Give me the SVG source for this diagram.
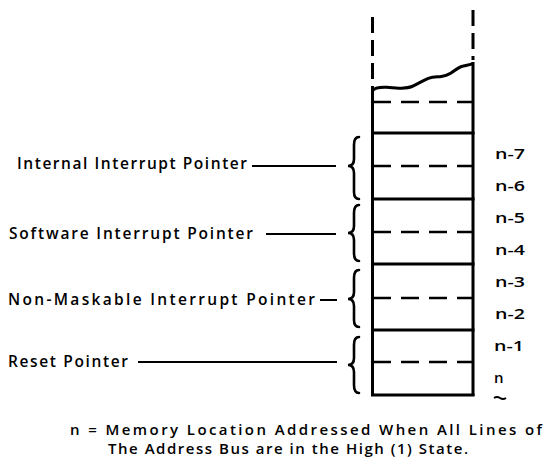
<svg xmlns="http://www.w3.org/2000/svg" width="547" height="465" viewBox="0 0 547 465">
<style>
.t{font-family:"Open Sans","Liberation Sans",Arial,sans-serif;font-weight:600;font-size:15.5px;fill:#000}
.a{font-family:"Open Sans","Liberation Sans",Arial,sans-serif;font-weight:600;font-size:15px;fill:#000}
.s{stroke:#000;stroke-width:3;fill:none}
.d{stroke:#000;stroke-width:2.6;fill:none;stroke-dasharray:18 10}
.v{stroke:#000;stroke-width:3;fill:none;stroke-dasharray:16 7}
.l{stroke:#000;stroke-width:2;fill:none}
.b{stroke:#000;stroke-width:2.6;fill:none;stroke-linecap:round}
</style>
<rect width="547" height="465" fill="#fff"/>
<g id="memory-stack">
<line class="v" x1="372.5" y1="17" x2="372.5" y2="88"/>
<line class="v" x1="473" y1="10" x2="473" y2="60"/>
<path class="s" d="M372.3 91 C374 88 378 87 386.7 87.3 C392 87.6 396 88.6 400 88.3 C405 88 408 88 412 86.5 C417 84.5 422 81 428.3 78.3 C433 76.7 437 77 440 76.7 C445 76 448 75 451 73 C455 70 459 67 463.3 66 C467 65 470 65 473.3 63.3"/>
<line class="s" x1="372.5" y1="88" x2="372.5" y2="396"/>
<line class="s" x1="473" y1="62" x2="473" y2="396"/>
<line class="d" x1="373" y1="102" x2="472" y2="102"/>
<line class="s" x1="371" y1="133" x2="474.5" y2="133"/>
<line class="d" x1="373" y1="166" x2="472" y2="166"/>
<line class="s" x1="371" y1="199" x2="474.5" y2="199"/>
<line class="d" x1="373" y1="232" x2="472" y2="232"/>
<line class="s" x1="371" y1="264" x2="474.5" y2="264"/>
<line class="d" x1="373" y1="298" x2="472" y2="298"/>
<line class="s" x1="371" y1="330" x2="474.5" y2="330"/>
<line class="d" x1="373" y1="362" x2="472" y2="362"/>
<line class="s" x1="371" y1="395" x2="474.5" y2="395"/>
</g>
<g id="address-labels">
<text class="a" x="495" y="159" textLength="30" lengthAdjust="spacingAndGlyphs">n-7</text>
<text class="a" x="495" y="191" textLength="30" lengthAdjust="spacingAndGlyphs">n-6</text>
<text class="a" x="495" y="223" textLength="30" lengthAdjust="spacingAndGlyphs">n-5</text>
<text class="a" x="495" y="255" textLength="30" lengthAdjust="spacingAndGlyphs">n-4</text>
<text class="a" x="495" y="287" textLength="30" lengthAdjust="spacingAndGlyphs">n-3</text>
<text class="a" x="495" y="319" textLength="30" lengthAdjust="spacingAndGlyphs">n-2</text>
<text class="a" x="494" y="351" textLength="30" lengthAdjust="spacingAndGlyphs">n-1</text>
<text class="a" x="494" y="383">n</text>
<path class="l" d="M494 398 Q497 396 500 398 Q503 400 506 398" stroke-width="1.5"/>
</g>
<g id="internal-interrupt-pointer">
<text class="t" x="17" y="169" textLength="230" lengthAdjust="spacing">Internal Interrupt Pointer</text>
<path class="b" d="M359 137 Q354 137 354 145 L354 159 Q354 166 348 166 Q354 166 354 173 L354 192 Q354 199 359 199"/>
</g>
<g id="software-interrupt-pointer">
<text class="t" x="9" y="239" textLength="244" lengthAdjust="spacing">Software Interrupt Pointer</text>
<path class="b" d="M359 205 Q354 205 354 213 L354 226 Q354 233 348 233 Q354 233 354 240 L354 253 Q354 261 359 261"/>
</g>
<g id="non-maskable-interrupt-pointer">
<text class="t" x="8" y="305" textLength="307" lengthAdjust="spacing">Non-Maskable Interrupt Pointer</text>
<path class="b" d="M359 270 Q354 270 354 278 L354 292 Q354 299 348 299 Q354 299 354 306 L354 320 Q354 327 359 327"/>
</g>
<g id="reset-pointer">
<text class="t" x="8" y="367" textLength="120" lengthAdjust="spacing">Reset Pointer</text>
<path class="b" d="M359 337 Q354 337 354 345 L354 358 Q354 365 348 365 Q354 365 354 372 L354 385 Q354 393 359 393"/>
</g>
<g id="connectors">
<line class="l" x1="252" y1="166" x2="336" y2="166"/>
<line class="l" x1="266" y1="234" x2="336" y2="234"/>
<line class="l" x1="320" y1="300" x2="337" y2="300"/>
<line class="l" x1="138" y1="362" x2="337" y2="362"/>
</g>
<g id="note">
<text class="a" x="70" y="435" textLength="472" lengthAdjust="spacing">n = Memory Location Addressed When All Lines of</text>
<text class="a" x="108" y="454" textLength="360" lengthAdjust="spacing">The Address Bus are in the High (1) State.</text>
</g>
</svg>
